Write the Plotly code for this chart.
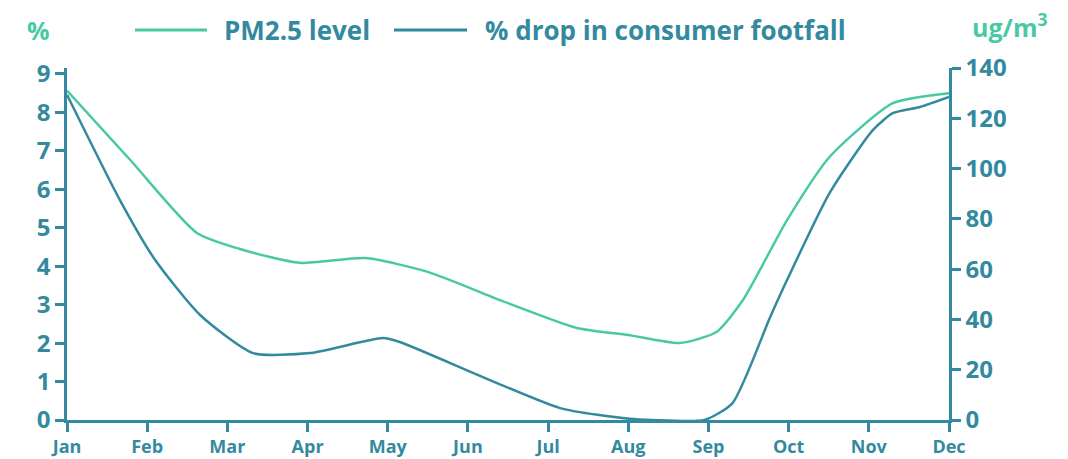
import plotly.graph_objects as go

month_labels = ["Jan", "Feb", "Mar", "Apr", "May", "Jun", "Jul", "Aug", "Sep", "Oct", "Nov", "Dec"]
month_pos = list(range(12))

# PM2.5 level (ug/m3, right axis) - positions in month units
pm_x = [0, 0.8, 1.62, 2.2, 2.9, 3.72, 4.5, 5.4, 6.36, 7.0, 7.64, 8.1, 8.43, 8.98, 9.51, 10.3, 11]
pm_y = [131, 103, 74.4, 67.6, 62.5, 64.4, 58.9, 47.7, 36.6, 33.8, 30.6, 35, 47.7, 79.5, 104.6, 126, 130]

# % drop in consumer footfall (left axis)
ff_x = [0, 0.66, 1.1, 1.66, 2.32, 3.03, 3.94, 4.15, 6.15, 7.02, 7.3, 7.95, 8.3, 8.77, 8.98, 9.51, 10.05, 10.3, 10.64, 11]
ff_y = [8.46, 5.72, 4.16, 2.73, 1.74, 1.74, 2.13, 2.03, 0.31, 0.03, 0, 0, 0.44, 2.68, 3.64, 5.9, 7.54, 7.98, 8.14, 8.4]

left_ticks = list(range(0, 10))
right_ticks = list(range(0, 141, 20))

GREEN = "#48c9a4"
TEAL = "#338a9f"
FONT = "Open Sans"

fig = go.Figure()
fig.add_trace(go.Scatter(x=pm_x, y=pm_y, yaxis="y2", mode="lines", name="PM2.5 level",
                         line=dict(color=GREEN, width=2.5, shape="spline", smoothing=0.6)))
fig.add_trace(go.Scatter(x=ff_x, y=ff_y, yaxis="y", mode="lines", name="% drop in consumer footfall",
                         line=dict(color=TEAL, width=2.5, shape="spline", smoothing=0.6)))

axis_common = dict(showgrid=False, zeroline=False, showline=True, linecolor=TEAL, linewidth=2.5,
                   ticks="outside", tickcolor=TEAL, tickwidth=2.5, ticklen=9, automargin=False)

# page body has an 8px margin, so the figure is sized/offset to compensate
fig.update_layout(
    width=1060, height=451,
    margin=dict(l=59, r=119, t=60, b=39, autoexpand=False),
    paper_bgcolor="white", plot_bgcolor="white",
    showlegend=False,
    font=dict(family=FONT, color=TEAL),
    xaxis=dict(range=[0, 11], tickvals=month_pos, ticktext=month_labels,
               tickfont=dict(family=FONT, size=18, color=TEAL, weight="bold"), **axis_common),
    yaxis=dict(range=[0, 9.155], tickvals=left_ticks,
               tickfont=dict(family=FONT, size=24, color=TEAL, weight="bold"), **axis_common),
    yaxis2=dict(range=[0, 140], tickvals=right_ticks, overlaying="y", side="right",
                tickfont=dict(family=FONT, size=24, color=TEAL, weight="bold"), **axis_common),
)

# custom legend (pixel positions relative to the reference plot area 67..949 x 68..420)
def px_x(p):
    return (p - 67) / 882

def px_y(p):
    return (420 - p) / 352

legend_items = [(135, 207, 222, GREEN, "PM2.5 level"), (394, 467, 483, TEAL, "% drop in consumer footfall")]
for x0, x1, tx, col, label in legend_items:
    fig.add_shape(type="line", xref="paper", yref="paper", x0=px_x(x0), x1=px_x(x1),
                  y0=px_y(30), y1=px_y(30), line=dict(color=col, width=3))
    fig.add_annotation(xref="paper", yref="paper", x=px_x(tx), y=px_y(30), xanchor="left", yanchor="middle",
                       text=label, showarrow=False,
                       font=dict(family=FONT, size=26, color=TEAL, weight="bold"))

fig.add_annotation(xref="paper", yref="paper", x=px_x(25), y=px_y(30), xanchor="left", yanchor="middle",
                   text="%", showarrow=False, font=dict(family=FONT, size=25, color=GREEN, weight="bold"))
fig.add_annotation(xref="paper", yref="paper", x=px_x(970), y=px_y(26), xanchor="left", yanchor="middle",
                   text="ug/m<sup>3</sup>", showarrow=False, font=dict(family=FONT, size=25, color=GREEN, weight="bold"))

fig.write_html("out.html")
